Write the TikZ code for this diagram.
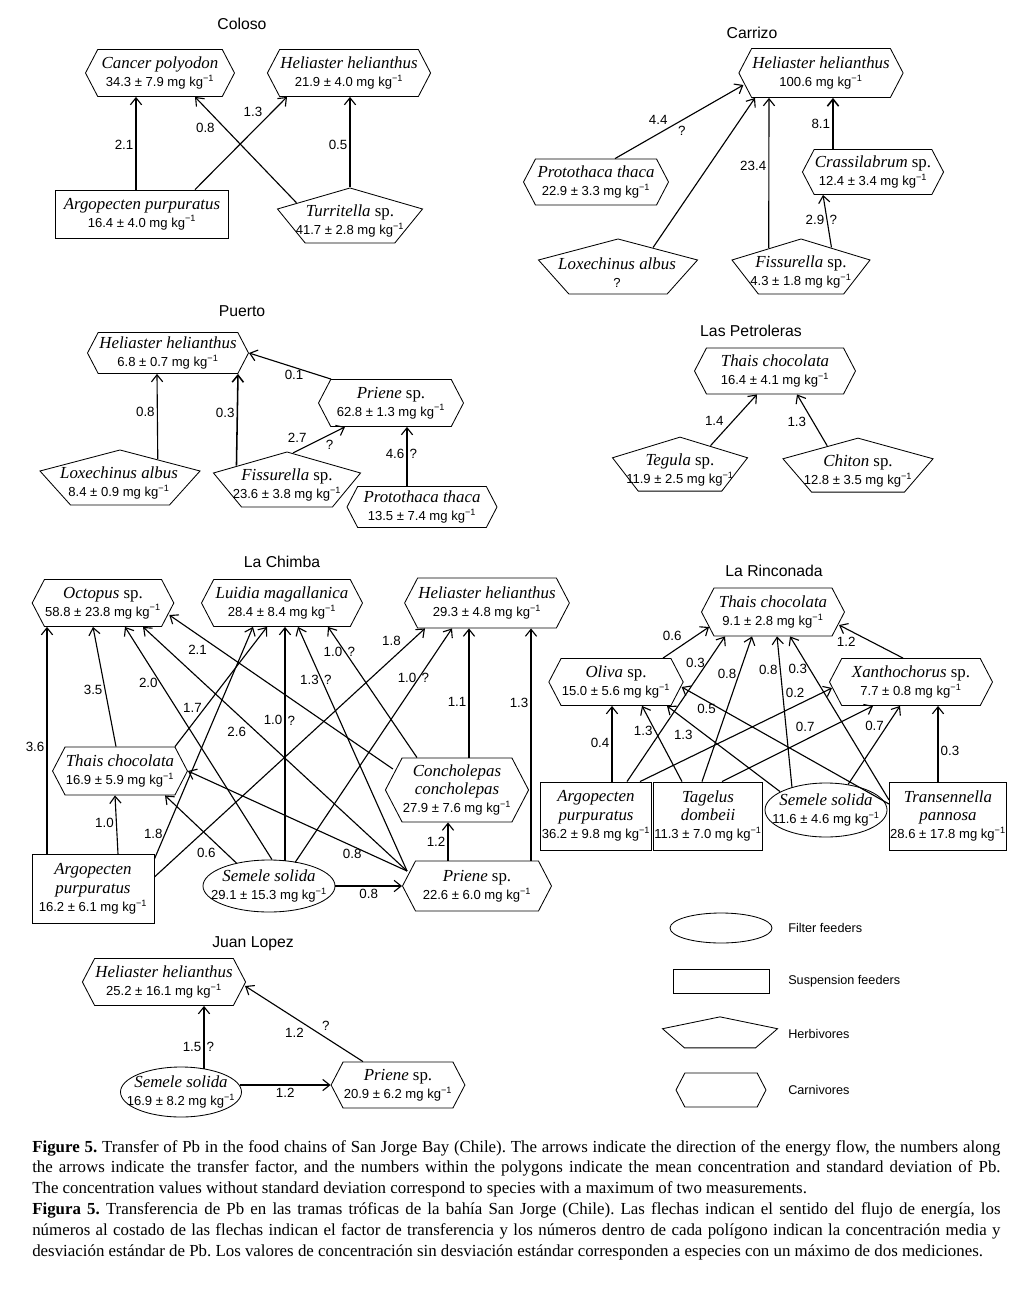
\documentclass[tikz,border=0pt]{standalone}
\usepackage{fontspec}
\setmainfont{Liberation Serif}
\setsansfont{Liberation Sans}
\usetikzlibrary{shapes.geometric, shapes.symbols, arrows.meta, calc, positioning}
\newcommand{\mgkg}{mg kg\textsuperscript{−1}}
\newcommand{\nm}[1]{{\fontsize{12}{13}\selectfont\rmfamily #1}}

\tikzset{
	spbox/.style={draw, fill=white, align=center, line width=0.6pt, font=\fontsize{9.3}{13}\selectfont\sffamily},
	carn/.style 2 args={spbox, signal, signal to=east and west, signal pointer angle=125, inner xsep=0.5pt, inner ysep=1pt, minimum width=#1*0.025cm, minimum height=#2*0.025cm},
	susp/.style 2 args={spbox, rectangle, inner xsep=0.5pt, inner ysep=1pt, minimum width=#1*0.025cm, minimum height=#2*0.025cm},
	filt/.style 2 args={draw, fill=white, line width=0.6pt, ellipse, inner sep=0pt, minimum width=#1*0.025cm, minimum height=#2*0.025cm},
	herb/.style 2 args={regular polygon, regular polygon sides=5, draw, fill=white, line width=0.6pt, inner sep=0pt, minimum size=1cm, xscale=#1/38.04, yscale=#2/36.18, transform shape},
	htxt/.style={align=center, inner sep=0pt, font=\fontsize{9.3}{13}\selectfont\sffamily},
	flow/.style={-{Straight Barb[length=5pt,width=8pt]}, line width=0.8pt},
	lbl/.style={font=\fontsize{9.5}{10}\selectfont\sffamily, inner sep=1.5pt},
	site/.style={font=\fontsize{11.2}{12}\selectfont\sffamily},
	lgtxt/.style={font=\fontsize{9}{10}\selectfont\sffamily, anchor=west, inner sep=0pt}
}

\begin{document}
\begin{tikzpicture}[x=0.025cm, y=-0.025cm]
	\useasboundingbox[fill=white] (0,0) rectangle (1018,1292);

	% Coloso
	\node[site] (tColoso) at (242,24) {Coloso};
	\node[carn={149}{47}] (cancerC) at (160,73) {\nm{\textit{Cancer polyodon}}\\34.3 ± 7.9 \mgkg};
	\node[carn={162}{47}] (helC) at (349,73) {\nm{\textit{Heliaster helianthus}}\\21.9 ± 4.0 \mgkg};
	\node[susp={173}{48}] (argoC) at (142,214) {\nm{\textit{Argopecten purpuratus}}\\16.4 ± 4.0 \mgkg};
	\node[herb={145}{55}] (turrC) at (350,218.4) {};
	\node[htxt] (turrCt) at (350,221) {\nm{\textit{Turritella} sp.}\\41.7 ± 2.8 \mgkg};
	\draw[flow] ($(argoC.north)+(-6,0)$) -- node[lbl,left,pos=0.48]{2.1} ($(cancerC.south)+(-24,0)$);
	\draw[flow] ($(argoC.north)+(53,0)$) -- node[lbl,above left,pos=0.76]{1.3} ($(helC.south)+(-62,0)$);
	\draw[flow] ($(turrC.corner 1)!0.72!(turrC.corner 2)$) -- node[lbl,below left,pos=0.78]{0.8} ($(cancerC.south)+(35,0)$);
	\draw[flow] (turrC.corner 1) -- node[lbl,left,pos=0.47]{0.5} ($(helC.south)+(1,0)$);

	% Carrizo
	\node[site] (tCarrizo) at (752,33) {Carrizo};
	\node[carn={163}{49}] (helCa) at (821,73) {\nm{\textit{Heliaster helianthus}}\\100.6 \mgkg};
	\node[carn={145}{46}] (protoCa) at (596,182) {\nm{\textit{Protothaca thaca}}\\22.9 ± 3.3 \mgkg};
	\node[carn={138}{45}] (crassCa) at (873,172) {\nm{\textit{Crassilabrum} sp.}\\12.4 ± 3.4 \mgkg};
	\node[herb={159}{55}] (loxCa) at (618,269.4) {};
	\node[htxt] (loxCat) at (617,273) {\nm{\textit{Loxechinus albus}}\\?};
	\node[herb={138}{55}] (fisCa) at (801,269.4) {};
	\node[htxt] (fisCat) at (801,272) {\nm{\textit{Fissurella} sp.}\\4.3 ± 1.8 \mgkg};
	\draw[flow] ($(protoCa.north)+(19,0)$) -- node[lbl,above left,pos=0.43]{4.4} node[lbl,below right,pos=0.47]{?} ($(helCa.west)+(5,12)$);
	\draw[flow] ($(loxCa.corner 1)!0.43!(loxCa.corner 5)$) -- ($(helCa.south)+(-66,0)$);
	\draw[flow] ($(fisCa.corner 1)!0.456!(fisCa.corner 2)$) -- node[lbl,left,pos=0.55]{23.4} ($(helCa.south)+(-52,0)$);
	\draw[flow] ($(fisCa.corner 1)!0.43!(fisCa.corner 5)$) -- node[lbl,left,pos=0.53]{2.9} node[lbl,right,pos=0.53]{?} ($(crassCa.south)+(-50,0)$);
	\draw[flow, line width=1.1pt] ($(crassCa.north)+(-40,0)$) -- node[lbl,left,pos=0.5]{8.1} ($(helCa.south)+(12,0)$);

	% Puerto
	\node[site] (tPuerto) at (242,311) {Puerto};
	\node[carn={161}{41}] (helP) at (168,353) {\nm{\textit{Heliaster helianthus}}\\6.8 ± 0.7 \mgkg};
	\node[carn={145}{47}] (priP) at (391,403) {\nm{\textit{Priene} sp.}\\62.8 ± 1.3 \mgkg};
	\node[carn={150}{41}] (protoP) at (422,507) {\nm{\textit{Protothaca thaca}}\\13.5 ± 7.4 \mgkg};
	\node[herb={160}{55}] (loxP) at (120,480.4) {};
	\node[htxt] (loxPt) at (119,483) {\nm{\textit{Loxechinus albus}}\\8.4 ± 0.9 \mgkg};
	\node[herb={147}{55}] (fisP) at (287,482.4) {};
	\node[htxt] (fisPt) at (287,485) {\nm{\textit{Fissurella} sp.}\\23.6 ± 3.8 \mgkg};
	\draw[flow] ($(loxP.corner 1)!0.46!(loxP.corner 5)$) -- node[lbl,left,pos=0.55]{0.8} ($(helP.south)+(-11,0)$);
	\draw[flow, line width=1.1pt] ($(fisP.corner 1)!0.67!(fisP.corner 2)$) -- node[lbl,left,pos=0.58]{0.3} ($(helP.south)+(70,0)$);
	\draw[flow] ($(fisP.corner 1)!0.08!(fisP.corner 5)$) -- node[lbl,above left,pos=0.31]{2.7} node[lbl,below right,pos=0.58]{?} ($(priP.south)+(-46,0)$);
	\draw[flow] ($(priP.north)+(-60,0)$) -- node[lbl,below,pos=0.45]{0.1} (helP.east);
	\draw[flow] ($(protoP.north)+(-15,0)$) -- node[lbl,left,pos=0.55]{4.6} node[lbl,right,pos=0.55]{?} ($(priP.south)+(16,0)$);

	% Las Petroleras
	\node[site] (tPetro) at (751,331) {Las Petroleras};
	\node[carn={161}{46}] (thaPL) at (775,371) {\nm{\textit{Thais chocolata}}\\16.4 ± 4.1 \mgkg};
	\node[herb={135}{54}] (tegPL) at (680,467) {};
	\node[htxt] (tegPLt) at (680,470) {\nm{\textit{Tegula} sp.}\\11.9 ± 2.5 \mgkg};
	\node[herb={150}{54}] (chiPL) at (858,468) {};
	\node[htxt] (chiPLt) at (858,471) {\nm{\textit{Chiton} sp.}\\12.8 ± 3.5 \mgkg};
	\draw[flow] ($(tegPL.corner 1)!0.44!(tegPL.corner 5)$) -- node[lbl,above left,pos=0.34]{1.4} ($(thaPL.south)+(-18,0)$);
	\draw[flow] ($(chiPL.corner 1)!0.4!(chiPL.corner 2)$) -- node[lbl,below left,pos=0.61]{1.3} ($(thaPL.south)+(22,0)$);

	% La Chimba
	\node[site] (tChimba) at (282,562) {La Chimba};
	\node[carn={140}{47}] (octCh) at (103,603) {\nm{\textit{Octopus} sp.}\\58.8 ± 23.8 \mgkg};
	\node[carn={161}{47}] (luiCh) at (282,603) {\nm{\textit{Luidia magallanica}}\\28.4 ± 8.4 \mgkg};
	\node[carn={161}{50}] (helCh) at (487,603) {\nm{\textit{Heliaster helianthus}}\\29.3 ± 4.8 \mgkg};
	\node[carn={134}{48}] (thaCh) at (120,771) {\nm{\textit{Thais chocolata}}\\16.9 ± 5.9 \mgkg};
	\node[carn={131}{64}] (conCh) at (457,790) {\nm{\textit{Concholepas}}\\\nm{\textit{concholepas}}\\27.9 ± 7.6 \mgkg};
	\node[susp={122}{69}] (argCh) at (93,889) {\nm{\textit{Argopecten}}\\\nm{\textit{purpuratus}}\\16.2 ± 6.1 \mgkg};
	\node[filt={132}{52}] (semCh) at (269,886) {};
	\node[htxt] (semCht) at (269,886) {\nm{\textit{Semele solida}}\\29.1 ± 15.3 \mgkg};
	\node[carn={149}{50}] (priCh) at (477,886) {\nm{\textit{Priene} sp.}\\22.6 ± 6.0 \mgkg};
	\draw[flow] ($(argCh.north)+(-46,0)$) -- node[lbl,left,pos=0.47]{3.6} ($(octCh.south)+(-56,0)$);
	\draw[flow] ($(thaCh.north)+(-4,0)$) -- node[lbl,left,pos=0.475]{3.5} ($(octCh.south)+(-10,0)$);
	\draw[flow] ($(argCh.north)+(25,0)$) -- node[lbl,left,pos=0.54]{1.0} ($(thaCh.south)+(-5,0)$);
	\draw[flow] ($(semCh.north)+(3,0)$) -- node[lbl,left,pos=0.76]{2.0} ($(octCh.south)+(22,0)$);
	\draw[flow] ($(priCh.west)+(5,-15)$) -- node[lbl,below left,pos=0.6]{2.6} ($(octCh.south)+(40,0)$);
	\draw[flow] ($(conCh.west)+(8,-21)$) -- node[lbl,below left,pos=0.82]{2.1} ($(octCh.east)+(-5,12)$);
	\draw[flow] ($(argCh.east)+(0,-30)$) -- node[lbl,left,pos=0.11]{1.8} ($(luiCh.south)+(-29,0)$);
	\draw[flow] ($(thaCh.north)+(55,0)$) -- node[lbl,left,pos=0.32]{1.7} ($(luiCh.south)+(-15,0)$);
	\draw[flow] ($(semCh.north)+(16,1)$) -- node[lbl,left,pos=0.6]{1.0} node[lbl,right,pos=0.6]{?} ($(luiCh.south)+(3,0)$);
	\draw[flow] ($(priCh.west)+(5,-15)$) -- node[lbl,left,pos=0.785]{1.3} node[lbl,right,pos=0.785]{?} ($(luiCh.south)+(16,0)$);
	\draw[flow] ($(conCh.north)+(-40,0)$) -- node[lbl,left,pos=0.81]{1.0} node[lbl,right,pos=0.81]{?} ($(luiCh.south)+(46,0)$);
	\draw[flow] ($(argCh.east)+(0,-12)$) -- node[lbl,above left,pos=0.92]{1.8} ($(helCh.south)+(-62,0)$);
	\draw[flow] ($(semCh.north)+(26,3)$) -- node[lbl,left,pos=0.79]{1.0} node[lbl,right,pos=0.79]{?} ($(helCh.south)+(-35,0)$);
	\draw[flow] ($(conCh.north)+(12,0)$) -- node[lbl,left,pos=0.43]{1.1} ($(helCh.south)+(-18,0)$);
	\draw[flow] ($(priCh.north)+(54,0)$) -- node[lbl,left,pos=0.68]{1.3} ($(helCh.south)+(44,0)$);
	\draw[flow] ($(priCh.north)+(-29,0)$) -- node[lbl,left,pos=0.5]{1.2} ($(conCh.south)+(-9,0)$);
	\draw[flow] ($(priCh.west)+(5,-15)$) -- node[lbl,below,pos=0.25]{0.8} (thaCh.east);
	\draw[flow] ($(semCh.north)+(-32,4)$) -- node[lbl,below left,pos=0.26]{0.6} ($(thaCh.south)+(45,0)$);
	\draw[flow] (semCh.east) -- node[lbl,below]{0.8} (priCh.west);

	% La Rinconada
	\node[site] (tRinc) at (774,571) {La Rinconada};
	\node[carn={143}{48}] (thaR) at (773,612) {\nm{\textit{Thais chocolata}}\\9.1 ± 2.8 \mgkg};
	\node[carn={134}{47}] (olR) at (616,682) {\nm{\textit{Oliva} sp.}\\15.0 ± 5.6 \mgkg};
	\node[carn={163}{47}] (xanR) at (911,682) {\nm{\textit{Xanthochorus} sp.}\\7.7 ± 0.8 \mgkg};
	\node[susp={111}{68}] (argR) at (596,816) {\nm{\textit{Argopecten}}\\\nm{\textit{purpuratus}}\\36.2 ± 9.8 \mgkg};
	\node[susp={108}{68}] (tagR) at (708,816) {\nm{\textit{Tagelus}}\\\nm{\textit{dombeii}}\\11.3 ± 7.0 \mgkg};
	\node[filt={122}{54}] (semR) at (826,810) {};
	\node[htxt] (semRt) at (826,810) {\nm{\textit{Semele solida}}\\11.6 ± 4.6 \mgkg};
	\node[susp={115}{68}] (traR) at (948,816) {\nm{\textit{Transennella}}\\\nm{\textit{pannosa}}\\28.6 ± 17.8 \mgkg};
	\draw[flow] ($(olR.north)+(47,0)$) -- node[lbl,above left,pos=0.46]{0.6} ($(thaR.west)+(8,15)$);
	\draw[flow] ($(argR.north)+(31,0)$) -- node[lbl,left,pos=0.82]{0.3} ($(thaR.south)+(-48,0)$);
	\draw[flow] ($(tagR.north)+(-6,0)$) -- node[lbl,left,pos=0.74]{0.8} ($(thaR.south)+(-21,0)$);
	\draw[flow] ($(semR.north)+(-34,5)$) -- node[lbl,left,pos=0.78]{0.8} ($(thaR.south)+(4,0)$);
	\draw[flow] ($(traR.west)+(0,-16)$) -- node[lbl,left,pos=0.8]{0.3} ($(thaR.south)+(17,0)$);
	\draw[flow] ($(xanR.north)+(-8,0)$) -- node[lbl,below left,pos=0.7]{1.2} ($(thaR.east)+(-6,13)$);
	\draw[flow] ($(argR.north)+(16,0)$) -- node[lbl,left,pos=0.51]{0.4} ($(olR.south)+(-4,0)$);
	\draw[flow] ($(tagR.north)+(-26,0)$) -- node[lbl,left,pos=0.67]{1.3} ($(olR.south)+(26,0)$);
	\draw[flow] ($(semR.north)+(-46,9)$) -- node[lbl,below left,pos=0.75]{1.3} ($(olR.south)+(51,0)$);
	\draw[flow] ($(traR.west)+(0,-12)$) -- node[lbl,below,pos=0.88]{0.5} ($(olR.east)+(-2,5)$);
	\draw[flow] ($(argR.north)+(44,0)$) -- node[lbl,above left,pos=0.87]{0.2} ($(xanR.west)+(3,6)$);
	\draw[flow] ($(tagR.north)+(14,0)$) -- node[lbl,above left,pos=0.63]{0.7} ($(xanR.south)+(-38,0)$);
	\draw[flow] ($(semR.north)+(22,2)$) -- node[lbl,left,pos=0.74]{0.7} ($(xanR.south)+(-11,0)$);
	\draw[flow] ($(traR.north)+(-10,0)$) -- node[lbl,right,pos=0.41]{0.3} ($(xanR.south)+(27,0)$);

	% Juan Lopez
	\node[site] (tJuan) at (253,944) {Juan Lopez};
	\node[carn={162}{47}] (helJ) at (164,982) {\nm{\textit{Heliaster helianthus}}\\25.2 ± 16.1 \mgkg};
	\node[filt={121}{50}] (semJ) at (181,1092) {};
	\node[htxt] (semJt) at (181,1092) {\nm{\textit{Semele solida}}\\16.9 ± 8.2 \mgkg};
	\node[carn={127}{46}] (priJ) at (398,1085) {\nm{\textit{Priene} sp.}\\20.9 ± 6.2 \mgkg};
	\draw[flow] ($(semJ.north)+(23,2)$) -- node[lbl,left,pos=0.34]{1.5} node[lbl,right,pos=0.34]{?} ($(helJ.south)+(40,0)$);
	\draw[flow] ($(priJ.north)+(-35,0)$) -- node[lbl,below left,pos=0.48]{1.2} node[lbl,above right,pos=0.37]{?} ($(helJ.east)+(-1,4)$);
	\draw[flow] ($(semJ.east)+(-2,-7)$) -- node[lbl,below,pos=0.5]{1.2} (priJ.west);

	% legend
	\node[filt={102}{30}] (lgFilt) at (721,928) {};
	\node[lgtxt] (lgFiltt) at (788,928) {Filter feeders};
	\node[susp={96}{24}] (lgSusp) at (721,981) {};
	\node[lgtxt] (lgSuspt) at (788,981) {Suspension feeders};
	\node[herb={115}{31}] (lgHerb) at (720,1034) {};
	\node[lgtxt] (lgHerbt) at (788,1034) {Herbivores};
	\node[carn={90}{34}] (lgCarn) at (721,1090) {};
	\node[lgtxt] (lgCarnt) at (788,1090) {Carnivores};

	% caption
	\node[anchor=north west, text width=24.2cm, inner sep=0pt, align=justify, font=\fontsize{12}{14.8}\selectfont] (cap) at (32,1140) {\parindent=0pt\frenchspacing
		\textbf{Figure 5.} Transfer of Pb in the food chains of San Jorge Bay (Chile). The arrows indicate the direction of the energy flow, the numbers along\linebreak
		the arrows indicate the transfer factor, and the numbers within the polygons indicate the mean concentration and standard deviation of Pb.\linebreak
		The concentration values without standard deviation correspond to species with a maximum of two measurements.\par
		\textbf{Figura 5.} Transferencia de Pb en las tramas tróficas de la bahía San Jorge (Chile). Las flechas indican el sentido del flujo de energía, los\linebreak
		números al costado de las flechas indican el factor de transferencia y los números dentro de cada polígono indican la concentración media y\linebreak
		desviación estándar de Pb. Los valores de concentración sin desviación estándar corresponden a especies con un máximo de dos mediciones.};
\end{tikzpicture}
\end{document}
